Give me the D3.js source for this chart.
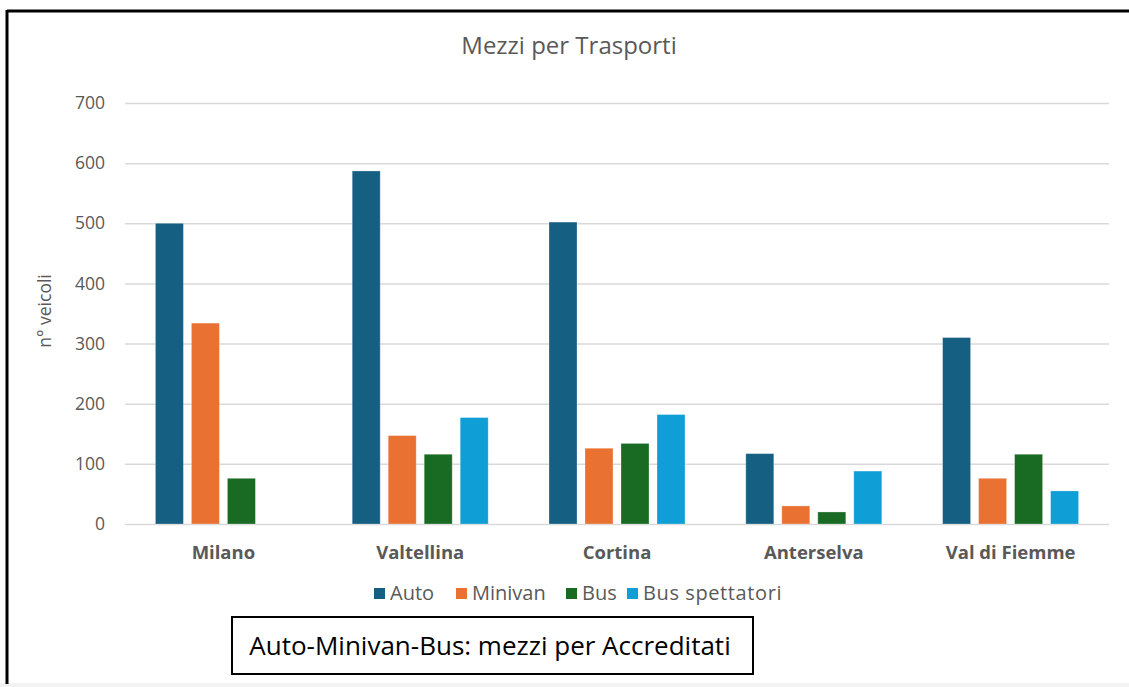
<!DOCTYPE html>
<html>
<head>
<meta charset="utf-8">
<script src="https://cdn.jsdelivr.net/npm/d3@7"></script>
<style>
  html, body { margin: 0; padding: 0; background: #ffffff; }
  svg { display: block; }
</style>
</head>
<body>
<script>
// Vehicles per venue, grouped by type
const categories = ["Milano", "Valtellina", "Cortina", "Anterselva", "Val di Fiemme"];
const seriesNames = ["Auto", "Minivan", "Bus", "Bus spettatori"];
const auto = [500, 587, 502, 117, 310];
const minivan = [334, 147, 126, 30, 76];
const bus = [76, 116, 134, 20, 116];
const busSpettatori = [null, 177, 182, 88, 55];
const yTicks = [0, 100, 200, 300, 400, 500, 600, 700];
const colors = ["#156082", "#E97132", "#196B24", "#0F9ED5"];

const seriesValues = [auto, minivan, bus, busSpettatori];

const W = 1129, H = 687;
const plot = { left: 125, right: 1109, top: 103, bottom: 524 };
const textColor = "#595959";
const font = "'Open Sans', 'Liberation Sans', sans-serif";

const svg = d3.select("body").append("svg")
  .attr("width", W).attr("height", H);

// page background and frame
svg.append("rect").attr("x", 0).attr("y", 0).attr("width", W).attr("height", H).attr("fill", "#ffffff");
svg.append("rect").attr("x", 0).attr("y", 683).attr("width", W).attr("height", 4).attr("fill", "#f3f3f3");
svg.append("line").attr("x1", 7).attr("x2", W).attr("y1", 11).attr("y2", 11)
  .attr("stroke", "#000").attr("stroke-width", 3);
svg.append("line").attr("x1", 7).attr("x2", 7).attr("y1", 10).attr("y2", 684)
  .attr("stroke", "#000").attr("stroke-width", 3);

const x0 = d3.scaleBand().domain(categories).range([plot.left, plot.right]).padding(0);
const inset = (x0.bandwidth() - 136) / 2;
const x1 = d3.scaleBand().domain(seriesNames)
  .range([inset, x0.bandwidth() - inset]).paddingInner(8 / 36).paddingOuter(0);
const y = d3.scaleLinear().domain([0, 700]).range([plot.bottom, plot.top]);

// gridlines
const yAxis = d3.axisLeft(y).tickValues(yTicks).tickSize(-(plot.right - plot.left)).tickPadding(20);
const gy = svg.append("g").attr("transform", `translate(${plot.left},0)`).call(yAxis);
gy.select(".domain").remove();
gy.selectAll(".tick line").attr("stroke", "#d9d9d9").attr("stroke-width", 1.5);
gy.selectAll(".tick text")
  .attr("fill", textColor).attr("font-family", font).attr("font-size", 17.5);

// bars
const groups = svg.append("g").selectAll("g")
  .data(categories)
  .join("g")
  .attr("transform", d => `translate(${x0(d)},0)`);

groups.selectAll("rect")
  .data((c, ci) => seriesNames.map((s, si) => ({ s, si, v: seriesValues[si][ci] })).filter(d => d.v != null))
  .join("rect")
  .attr("x", d => x1(d.s))
  .attr("width", x1.bandwidth())
  .attr("y", d => y(d.v))
  .attr("height", d => y(0) - y(d.v))
  .attr("fill", d => colors[d.si])
  .attr("stroke", "#ffffff").attr("stroke-opacity", 0.35).attr("stroke-width", 0.8);

// category labels
const xAxis = d3.axisBottom(x0).tickSize(0).tickPadding(22);
const gx = svg.append("g").attr("transform", `translate(0,${plot.bottom})`).call(xAxis);
gx.select(".domain").remove();
gx.selectAll(".tick text")
  .attr("fill", textColor).attr("font-family", font).attr("font-size", 18.5).attr("font-weight", "bold");

// title
svg.append("text").attr("x", 569).attr("y", 54).attr("text-anchor", "middle")
  .attr("fill", textColor).attr("font-family", font).attr("font-size", 24)
  .text("Mezzi per Trasporti");

// y axis title
svg.append("text").attr("transform", "translate(51,311) rotate(-90)")
  .attr("text-anchor", "middle").attr("fill", textColor)
  .attr("font-family", font).attr("font-size", 17.5)
  .text("n° veicoli");

// legend
const legendX = [374, 456, 566, 627];
const legend = svg.append("g").selectAll("g").data(seriesNames).join("g")
  .attr("transform", (d, i) => `translate(${legendX[i]},588)`);
legend.append("rect").attr("width", 11).attr("height", 11).attr("fill", (d, i) => colors[i]);
legend.append("text").attr("x", 16).attr("y", 12)
  .attr("fill", textColor).attr("font-family", font).attr("font-size", 20)
  .attr("letter-spacing", (d, i) => i === 3 ? 0.6 : 0)
  .text(d => d);

// note box
svg.append("rect").attr("x", 232).attr("y", 617).attr("width", 521).attr("height", 57)
  .attr("fill", "#ffffff").attr("stroke", "#000").attr("stroke-width", 2);
svg.append("text").attr("x", 490).attr("y", 655).attr("text-anchor", "middle")
  .attr("fill", "#000").attr("font-family", font).attr("font-size", 26)
  .text("Auto-Minivan-Bus: mezzi per Accreditati");
</script>
</body>
</html>
